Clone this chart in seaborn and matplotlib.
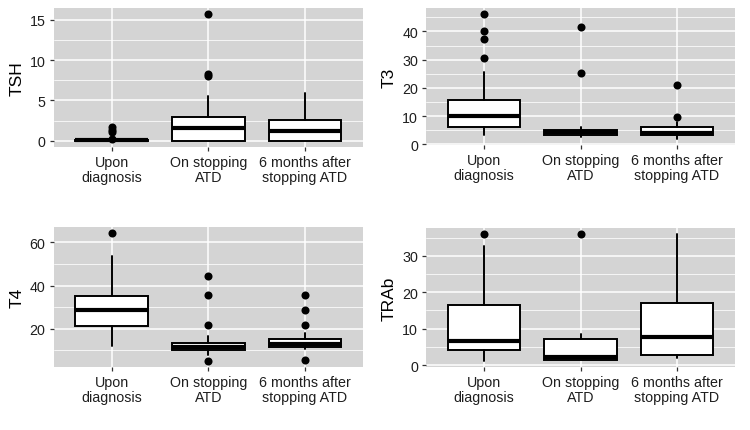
import matplotlib

matplotlib.use("Agg")
import matplotlib.pyplot as plt
import pandas as pd
import seaborn as sns
from matplotlib.ticker import AutoMinorLocator, FixedLocator

sns.set_theme(style="darkgrid")
plt.rcParams["font.family"] = ["Liberation Sans", "DejaVu Sans"]

GROUPS = ["Upon\ndiagnosis", "On stopping\nATD", "6 months after\nstopping ATD"]

# five-number summaries: whisker low, q1, median, q3, whisker high
TSH_LO = [0.0, 0.0, 0.0]
TSH_Q1 = [0.0, 0.0, 0.0]
TSH_MED = [0.04, 1.55, 1.15]
TSH_Q3 = [0.1, 2.95, 2.6]
TSH_HI = [0.1, 5.5, 5.95]
TSH_OUT = [[0.15, 1.1, 1.35, 1.65], [8.0, 8.3, 15.7], []]

T3_LO = [3.4, 2.8, 2.0]
T3_Q1 = [6.3, 3.4, 3.4]
T3_MED = [9.9, 4.3, 4.0]
T3_Q3 = [15.9, 5.2, 6.0]
T3_HI = [25.6, 6.3, 8.1]
T3_OUT = [[30.6, 37.3, 40.1, 46.1], [25.4, 41.5], [9.8, 21.0]]

T4_LO = [12.2, 8.0, 10.6]
T4_Q1 = [21.3, 10.0, 11.6]
T4_MED = [28.8, 11.4, 12.7]
T4_Q3 = [35.3, 13.4, 15.3]
T4_HI = [53.8, 16.6, 17.8]
T4_OUT = [[64.2], [5.2, 21.9, 35.5, 44.6], [5.3, 21.9, 28.6, 35.4]]

TRAB_LO = [1.2, 1.4, 1.8]
TRAB_Q1 = [4.2, 1.4, 2.8]
TRAB_MED = [6.7, 2.1, 7.8]
TRAB_Q3 = [16.4, 7.1, 17.0]
TRAB_HI = [32.7, 8.6, 35.9]
TRAB_OUT = [[35.9], [35.9], []]

PANELS = [
    ("TSH", TSH_LO, TSH_Q1, TSH_MED, TSH_Q3, TSH_HI, TSH_OUT, [0, 5, 10, 15]),
    ("T3", T3_LO, T3_Q1, T3_MED, T3_Q3, T3_HI, T3_OUT, [0, 10, 20, 30, 40]),
    ("T4", T4_LO, T4_Q1, T4_MED, T4_Q3, T4_HI, T4_OUT, [20, 40, 60]),
    ("TRAb", TRAB_LO, TRAB_Q1, TRAB_MED, TRAB_Q3, TRAB_HI, TRAB_OUT, [0, 10, 20, 30]),
]

# panel rectangles in pixels: left, top, right, bottom
RECTS = [(53.5, 9, 363, 148), (426, 9, 735, 146), (53.5, 228, 363, 368), (426, 229, 735, 368)]

W, H = 750, 431
PANEL_BG = "#D4D4D4"
TEXT = "#1e1e1e"

fig = plt.figure(figsize=(W / 100, H / 100), dpi=100)

for (name, lo, q1, med, q3, hi, out, ticks), (l, t, r, b) in zip(PANELS, RECTS):
    ax = fig.add_axes([l / W, 1 - b / H, (r - l) / W, (b - t) / H])
    stats = [
        {"whislo": lo[i], "q1": q1[i], "med": med[i], "q3": q3[i], "whishi": hi[i]}
        for i in range(len(GROUPS))
    ]
    ax.bxp(
        stats,
        positions=range(len(GROUPS)),
        widths=0.75,
        showfliers=False,
        showcaps=False,
        patch_artist=True,
        boxprops=dict(facecolor="white", edgecolor="black", linewidth=1.4),
        whiskerprops=dict(color="black", linewidth=1.4),
        medianprops=dict(color="black", linewidth=3.0, solid_capstyle="butt"),
        zorder=2,
    )
    fliers = pd.DataFrame(
        [(g, v) for g, vals in zip(GROUPS, out) for v in vals], columns=["group", "value"]
    )
    sns.stripplot(
        data=fliers, x="group", y="value", order=GROUPS, jitter=False,
        color="black", size=5.8, linewidth=0, ax=ax, zorder=3,
    )

    ax.set_facecolor(PANEL_BG)
    ax.set_xlim(-0.6, len(GROUPS) - 0.4)
    all_vals = lo + hi + [v for vals in out for v in vals]
    span = max(all_vals) - min(all_vals)
    ax.set_ylim(min(all_vals) - 0.05 * span, max(all_vals) + 0.05 * span)
    ax.set_xticks(range(len(GROUPS)))
    ax.set_xticklabels(GROUPS, linespacing=1.1)
    ax.yaxis.set_major_locator(FixedLocator(ticks))
    ax.yaxis.set_minor_locator(AutoMinorLocator(2))
    ax.grid(True, which="major", axis="both", color="white", linewidth=1.1)
    ax.grid(True, which="minor", axis="y", color="white", linewidth=0.55)
    ax.set_axisbelow(True)
    for sp in ax.spines.values():
        sp.set_visible(False)
    ax.tick_params(
        axis="both", which="major", bottom=True, left=True, direction="out",
        length=3.2, width=0.9, color="#333333",
        labelcolor=TEXT, labelsize=10.3, pad=2.5,
    )
    ax.tick_params(axis="y", which="minor", length=0)
    ax.set_xlabel("")
    ax.set_ylabel(name, fontsize=12.5, color="black", labelpad=4)

fig.savefig("out.png", dpi=100, facecolor="white")
